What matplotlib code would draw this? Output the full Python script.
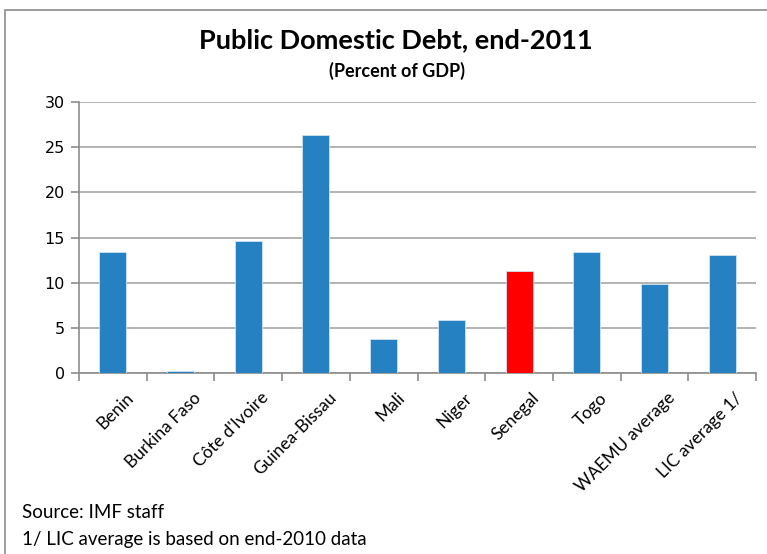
import matplotlib.pyplot as plt
from matplotlib.patches import Rectangle

countries = ['Benin', 'Burkina Faso', "Côte d'Ivoire", 'Guinea-Bissau', 'Mali',
             'Niger', 'Senegal', 'Togo', 'WAEMU average', 'LIC average 1/']
debt = [13.4, 0.2, 14.6, 26.4, 3.8, 5.9, 11.3, 13.4, 9.9, 13.1]
highlight = 'Senegal'
yticks = [0, 5, 10, 15, 20, 25, 30]

W, H = 767, 554
fig = plt.figure(figsize=(W / 100, H / 100), dpi=100)
fig.patch.set_facecolor('white')

# chart border (runs off the right and bottom edges)
fig.add_artist(Rectangle((5 / W, -0.05), 1.0, 1 - 10 / H + 0.05, transform=fig.transFigure,
                         fill=False, edgecolor='#8c8c8c', linewidth=1.2))

ax = fig.add_axes([79 / W, 1 - 373 / H, (756 - 79) / W, (373 - 102) / H])

colors = ['#ff0000' if c == highlight else '#2681c2' for c in countries]
x = range(len(countries))
ax.bar(x, debt, width=0.4, color=colors, edgecolor='#cfe3f2', linewidth=0.6, zorder=3)

ax.set_xlim(-0.5, len(countries) - 0.5)
ax.set_ylim(0, 30)
ax.set_yticks(yticks)
ax.set_yticklabels([str(t) for t in yticks], fontsize=11.5, family='DejaVu Sans')
ax.yaxis.grid(True, color='#a6a6a6', linewidth=1.2, zorder=0)

# category ticks sit between bars
ax.set_xticks([i - 0.5 for i in range(len(countries) + 1)], minor=False)
ax.set_xticklabels([])
ax.tick_params(axis='x', length=6, color='#8c8c8c', width=1.2, direction='out')
ax.tick_params(axis='y', length=6, color='#8c8c8c', width=1.2, direction='out', pad=4)

for i, name in enumerate(countries):
    ax.annotate(name, xy=(i, 0), xycoords=('data', 'axes fraction'),
                xytext=(9, -12), textcoords='offset points',
                rotation=45, ha='right', va='top', rotation_mode='anchor',
                fontsize=12.5, family='Lato')

for side in ['top', 'right']:
    ax.spines[side].set_visible(False)
ax.spines['left'].set_color('#8c8c8c')
ax.spines['bottom'].set_color('#8c8c8c')
ax.spines['left'].set_linewidth(1.2)
ax.spines['bottom'].set_linewidth(1.2)

fig.text(396 / W, 1 - 40 / H, 'Public Domestic Debt, end-2011', ha='center', va='center',
         fontsize=19.5, fontweight='bold', family='Lato')
fig.text(397 / W, 1 - 71 / H, '(Percent of GDP)', ha='center', va='center',
         fontsize=13, fontweight='bold', family='Lato')

fig.text(22 / W, 1 - 512 / H, 'Source: IMF staff', ha='left', va='center',
         fontsize=13.5, family='Lato')
fig.text(22 / W, 1 - 539 / H, '1/ LIC average is based on end-2010 data', ha='left',
         va='center', fontsize=13.5, family='Lato')

fig.savefig('out.png', dpi=100)
